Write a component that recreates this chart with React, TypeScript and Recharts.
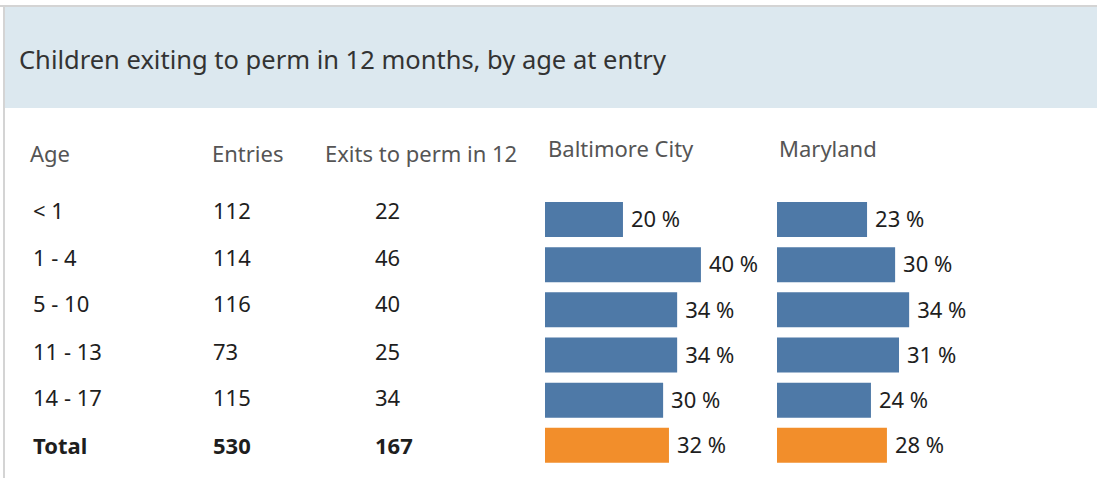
import React from "react";
import { BarChart, Bar, XAxis, YAxis, LabelList, Cell } from "recharts";

const ages = ["< 1", "1 - 4", "5 - 10", "11 - 13", "14 - 17", "Total"];
const entries = [112, 114, 116, 73, 115, 530];
const exits = [22, 46, 40, 25, 34, 167];
const baltimore = [20, 40, 33.9, 33.9, 30.3, 31.8];
const maryland = [23.1, 30.3, 33.9, 31.3, 24.1, 28.2];

const title = "Children exiting to perm in 12 months, by age at entry";
const headers = ["Age", "Entries", "Exits to perm in 12", "Baltimore City", "Maryland"];

const FONT = "'Noto Sans', sans-serif";
const BLUE = "#4e79a7";
const ORANGE = "#f28e2b";

const rowCenters = [210, 257, 303, 351, 397, 445];

function Panel({ values, left }: { values: number[]; left: number }) {
  const data = ages.map((a, i) => ({ age: a, v: values[i] }));
  return (
    <div style={{ position: "absolute", left, top: 197 }}>
      <BarChart
        width={230}
        height={271}
        data={data}
        layout="vertical"
        margin={{ top: 0, right: 0, bottom: 0, left: 0 }}
      >
        <XAxis type="number" domain={[0, 59]} hide />
        <YAxis type="category" dataKey="age" hide />
        <Bar dataKey="v" barSize={35} isAnimationActive={false}>
          {data.map((d, i) => (
            <Cell key={i} fill={d.age === "Total" ? ORANGE : BLUE} />
          ))}
          <LabelList
            dataKey="v"
            position="right"
            offset={8}
            formatter={(v: any) => `${Math.round(Number(v))} %`}
            style={{ fontFamily: FONT, fontSize: 22, fill: "#1e1e1e" }}
          />
        </Bar>
      </BarChart>
    </div>
  );
}

export default function App() {
  const textStyle = (x: number, y: number, extra: React.CSSProperties = {}): React.CSSProperties => ({
    position: "absolute",
    left: x,
    top: y,
    transform: "translateY(-50%)",
    fontFamily: FONT,
    fontSize: 22,
    lineHeight: 1,
    whiteSpace: "nowrap",
    ...extra,
  });
  return (
    <div
      style={{
        position: "absolute",
        left: 0,
        top: 0,
        width: 1097,
        height: 478,
        background: "#fff",
        overflow: "hidden",
      }}
    >
      <div style={{ position: "absolute", left: 0, top: 5, width: 1097, height: 2, background: "#d4d4d4" }} />
      <div style={{ position: "absolute", left: 3, top: 5, width: 2, height: 473, background: "#d4d4d4" }} />
      <div style={{ position: "absolute", left: 5, top: 7, width: 1092, height: 101, background: "#dce8ef" }} />
      <div style={textStyle(19, 60, { fontSize: 25.5, color: "#333" })}>{title}</div>

      <div style={textStyle(30, 153, { color: "#555" })}>{headers[0]}</div>
      <div style={textStyle(212, 153, { color: "#555" })}>{headers[1]}</div>
      <div style={textStyle(325, 153, { color: "#555" })}>{headers[2]}</div>
      <div style={textStyle(548, 148, { color: "#555" })}>{headers[3]}</div>
      <div style={textStyle(779, 148, { color: "#555" })}>{headers[4]}</div>

      {ages.map((a, i) => {
        const bold = a === "Total";
        const st = { color: "#1e1e1e", fontWeight: bold ? 700 : 400 } as React.CSSProperties;
        return (
          <React.Fragment key={a}>
            <div style={textStyle(33, rowCenters[i], st)}>{a}</div>
            <div style={textStyle(213, rowCenters[i], st)}>{entries[i]}</div>
            <div style={textStyle(375, rowCenters[i], st)}>{exits[i]}</div>
          </React.Fragment>
        );
      })}

      <Panel values={baltimore} left={545} />
      <Panel values={maryland} left={777} />
    </div>
  );
}
